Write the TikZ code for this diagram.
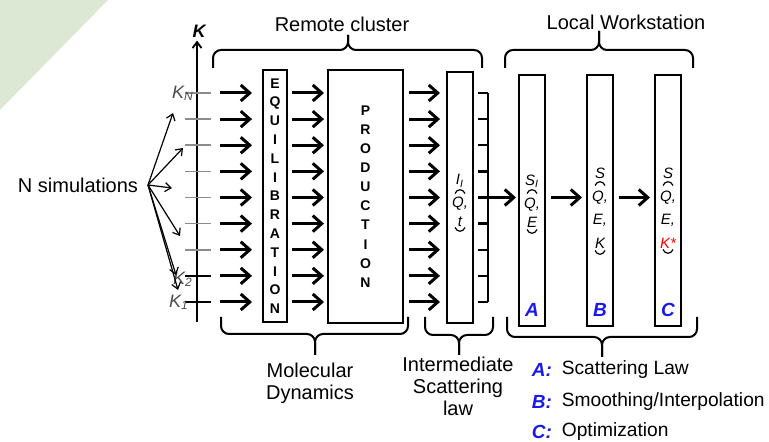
\documentclass[tikz,border=0pt]{standalone}
\usepackage{fontspec}
\setmainfont{Liberation Sans}
\usetikzlibrary{arrows.meta,positioning}

\definecolor{sage}{RGB}{221,232,212}
\definecolor{tagblue}{RGB}{25,25,235}

% curly bracket: left x, right x, tip x, arm end y, bar y, tip y
\newcommand{\curly}[6]{%
  \draw[brace line] (#1,#4) |- (#3,#5) -- (#3,#6);
  \draw[brace line] (#2,#4) |- (#3,#5) -- (#3,#6);}
% turned round brackets in the letter columns
\newcommand{\capopen}[2]{\draw[line width=0.6pt] (#1-5,#2+2.5) .. controls (#1-3,#2-2.5) and (#1+3,#2-2.5) .. (#1+5,#2+2.5);}
\newcommand{\capclose}[2]{\draw[line width=0.6pt] (#1-5,#2-2.5) .. controls (#1-3,#2+2.5) and (#1+3,#2+2.5) .. (#1+5,#2-2.5);}

\begin{document}
\begin{tikzpicture}[
    x=0.5pt, y=-0.5pt,
    box/.style={draw, line width=1pt, inner sep=0pt},
    flow/.style={-{Straight Barb[length=4.5pt,width=8pt]}, line width=1.5pt},
    thin arrow/.style={-{Straight Barb[length=3pt,width=4.5pt]}, line width=0.6pt},
    brace line/.style={line width=1pt, rounded corners=4pt},
    sym/.style={font=\fontsize{7.5}{9}\selectfont\itshape, inner sep=0pt},
    tag/.style={font=\fontsize{9.5}{10}\selectfont\bfseries\itshape, text=tagblue, inner sep=0pt},
    caption/.style={align=center, font=\fontsize{10}{11}\selectfont, inner sep=0pt},
    legend/.style={font=\fontsize{9.6}{11}\selectfont, inner sep=0pt},
    klabel/.style={font=\fontsize{9}{9}\selectfont\itshape, text=black!70, inner sep=0pt}
  ]
    \useasboundingbox (0,0) rectangle (769,442);
    \fill[sage] (0,0) -- (108,0) -- (0,110) -- cycle;

    % K axis
    \node[font=\fontsize{9}{9}\selectfont\bfseries\itshape, inner sep=0pt] (kaxis) at (199,31) {K};
    \coordinate (axbot) at (197,322);
    \draw[thin arrow, line width=0.9pt, shorten >=1.5pt] (axbot) -- (axbot |- kaxis.south);

    % Remote cluster boxes
    \node[box, minimum width=12pt, minimum height=126pt, font=\fontsize{7}{9.4}\selectfont\bfseries, align=center]
      (equil) at (275,196) {E\\Q\\U\\I\\L\\I\\B\\R\\A\\T\\I\\O\\N};
    \node[box, minimum width=37.5pt, minimum height=126.5pt, font=\fontsize{7}{9.55}\selectfont\bfseries, align=center]
      (prod) at (365.5,196.5) {P\\R\\O\\D\\U\\C\\T\\I\\O\\N};
    \node[box, minimum width=13pt, minimum height=125.5pt] (ibox) at (460,197.5) {};

    % Local workstation boxes
    \node[box, minimum width=13pt, minimum height=125.5pt] (boxA) at (532,200.5) {};
    \node[box, minimum width=13pt, minimum height=125.5pt] (boxB) at (600,200.5) {};
    \node[box, minimum width=13pt, minimum height=125.5pt] (boxC) at (668,200.5) {};

    % one row per simulation
    \foreach \row in {1,...,9} {
      \pgfmathsetmacro\yy{302-(\row-1)*26.125}
      \ifnum\row<3 \def\tcol{black}\else\def\tcol{black!45}\fi
      \coordinate (tl\row) at (185,\yy);
      \coordinate (tr\row) at (211,\yy);
      \coordinate (cb\row) at (488,\yy);
      \draw[line width=0.8pt, \tcol] (tl\row) -- (tr\row);
      \draw[flow, shorten <=4.5pt, shorten >=5pt] (tr\row) -- (equil.west |- tr\row);
      \draw[flow, shorten <=2pt, shorten >=1.5pt] (equil.east |- tr\row) -- (prod.west |- tr\row);
      \draw[flow, shorten <=2.5pt, shorten >=3pt] (prod.east |- tr\row) -- (ibox.west |- tr\row);
      \draw[line width=1.2pt] (cb\row) -- ++(-10,0);
    }
    \draw[line width=1.2pt] (cb9) -- (cb1);
    \draw[flow, shorten >=1pt] (cb5) -- (boxA.west |- cb5);
    \draw[flow, shorten <=2.5pt, shorten >=2pt] (boxA.east |- cb5) -- (boxB.west |- cb5);
    \draw[flow, shorten <=2.5pt, shorten >=2pt] (boxB.east |- cb5) -- (boxC.west |- cb5);

    \node[klabel] (kN) at (183,93) {K\textsubscript{N}};
    \node[klabel] (k2) at (183,279) {K\textsubscript{2}};
    \node[klabel] (k1) at (179,302) {K\textsubscript{1}};

    % N simulations fanning out
    \node[caption] (nsim) at (78,185) {N simulations};
    \coordinate (nsrc) at (148,185);
    \foreach \tx/\ty [count=\i] in {173/113,183/148,172/188,180/236,176/275,178/290} {
      \coordinate (ns\i) at (\tx,\ty);
      \draw[thin arrow] (nsrc) -- (ns\i);
    }

    % letters in the narrow boxes
    \foreach \txt/\yy [count=\i] in {{I\textsubscript{I}}/181,{Q,}/204,t/222}
      \node[sym] (ic\i) at (460,\yy) {\txt};
    \capopen{460}{191} \capclose{460}{230}
    \foreach \txt/\yy [count=\i] in {{S\textsubscript{I}}/181,{Q,}/205,E/222}
      \node[sym] (ac\i) at (532,\yy) {\txt};
    \capopen{532}{191} \capclose{532}{232}
    \foreach \txt/\yy [count=\i] in {S/173,{Q,}/198,{E,}/220,K/243}
      \node[sym] (bc\i) at (600,\yy) {\txt};
    \capopen{600}{183} \capclose{600}{253}
    \foreach \txt/\yy [count=\i] in {S/173,{Q,}/198,{E,}/220,{\color{red}K*}/243}
      \node[sym] (cc\i) at (668,\yy) {\txt};
    \capopen{668}{183} \capclose{668}{252}

    \node[tag] (ta) at (532,310) {A};
    \node[tag] (tb) at (600,310) {B};
    \node[tag] (tc) at (668,310) {C};

    % braces
    \curly{213}{482}{348}{68}{50}{35}
    \curly{505}{693}{599}{68}{50}{31}
    \curly{221}{408}{315}{317}{334}{355}
    \curly{425}{493}{459}{317}{335}{355}
    \curly{507}{697}{602}{317}{337}{357}

    \node[caption] (remote) at (342,24) {Remote cluster};
    \node[caption] (local) at (626,22) {Local Workstation};
    \node[caption] (md) at (310,383) {Molecular\\Dynamics};
    \node[caption] (isl) at (458,386) {Intermediate\\Scattering\\law};

    % legend
    \node[tag] (ka) at (542,370) {A:};
    \node[legend, right=4.5pt of ka] (la) {Scattering Law};
    \node[tag] (kb) at (542,402) {B:};
    \node[legend, right=4.5pt of kb] (lb) {Smoothing/Interpolation};
    \node[tag] (kc) at (542,432) {C:};
    \node[legend, right=4.5pt of kc] (lc) {Optimization};
\end{tikzpicture}
\end{document}
